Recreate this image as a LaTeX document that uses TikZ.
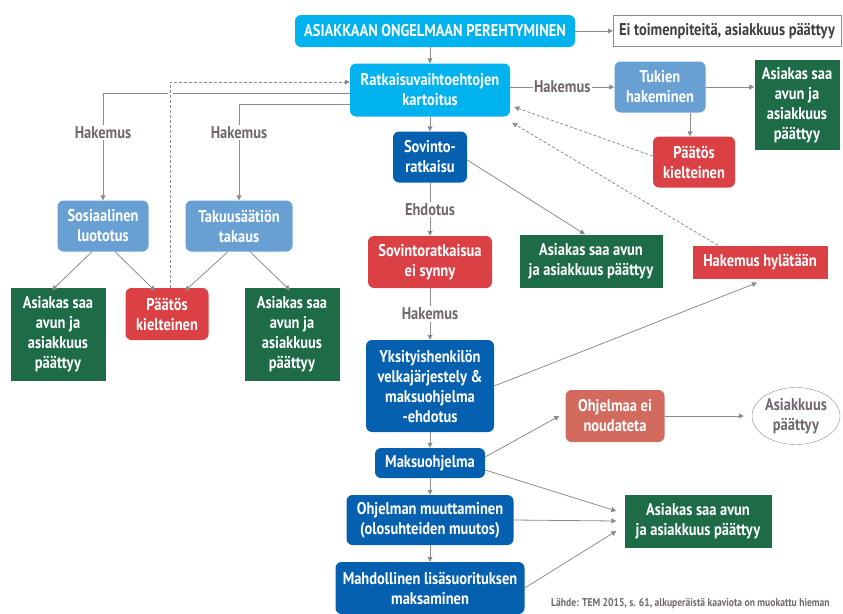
\documentclass[tikz,border=0pt]{standalone}
\usepackage{fontspec}
\setmainfont{PT Sans}[FakeStretch=0.85]
\usetikzlibrary{arrows.meta,shapes.geometric}
\definecolor{cyanbox}{RGB}{0,178,238}
\definecolor{lightbox}{RGB}{104,160,212}
\definecolor{darkbox}{RGB}{6,96,176}
\definecolor{redbox}{RGB}{218,64,68}
\definecolor{greenbox}{RGB}{30,107,72}
\definecolor{salmonbox}{RGB}{210,106,94}
\definecolor{linegray}{RGB}{140,140,140}
\definecolor{lblgray}{RGB}{112,104,110}
\begin{document}
\begin{tikzpicture}[x=1pt,y=-1pt,
    box/.style={rounded corners=6pt,inner sep=0pt,align=center,text=white,font=\fontsize{17}{20}\selectfont\bfseries},
    endbox/.style={box,rounded corners=0pt,fill=greenbox},
    arr/.style={draw=linegray,line width=0.8pt,-{Triangle[length=5pt,width=5pt]}},
    dasharr/.style={arr,dash pattern=on 3pt off 2pt},
    lbl/.style={fill=white,inner sep=1.5pt,text=lblgray,font=\fontsize{17}{20}\selectfont\bfseries}
]
\useasboundingbox (0,0) rectangle (843,613);

%top row
\node[box,fill=cyanbox,minimum width=280,minimum height=32] (alku) at (435,31) {ASIAKKAAN ONGELMAAN PEREHTYMINEN};
\node[box,rounded corners=0pt,draw=linegray,fill=white,text=black!75,minimum width=228,minimum height=31] (eitoim) at (727,31) {Ei toimenpiteitä, asiakkuus päättyy};
\node[box,fill=cyanbox,minimum width=160,minimum height=53] (ratk) at (430,90) {Ratkaisuvaihtoehtojen\\kartoitus};
\node[box,fill=lightbox,minimum width=91,minimum height=51] (tuki) at (660,87) {Tukien\\hakeminen};
\node[endbox,minimum width=85,minimum height=90] (apuA) at (797,105) {Asiakas saa\\avun ja\\asiakkuus\\päättyy};
\node[box,fill=redbox,minimum width=82,minimum height=51] (kielB) at (694,162) {Päätös\\kielteinen};

%middle column
\node[box,fill=darkbox,minimum width=74,minimum height=51] (sov) at (430,157) {Sovinto-\\ratkaisu};
\node[endbox,minimum width=143,minimum height=53] (apuB) at (591,261) {Asiakas saa avun\\ja asiakkuus päättyy};
\node[box,fill=redbox,minimum width=124,minimum height=52] (eisynny) at (430,262) {Sovintoratkaisua\\ei synny};
\node[box,rounded corners=0pt,fill=redbox,minimum width=135,minimum height=33] (hylatty) at (760,262) {Hakemus hylätään};
\node[box,fill=darkbox,minimum width=128,minimum height=92] (yks) at (430,386) {Yksityishenkilön\\velkajärjestely \&\\maksuohjelma\\-ehdotus};
\node[box,fill=darkbox,minimum width=110,minimum height=30] (mak) at (430,463) {Maksuohjelma};
\node[box,fill=salmonbox,minimum width=99,minimum height=52] (eino) at (615,416) {Ohjelmaa ei\\noudateta};
\node[ellipse,draw=linegray,inner sep=0pt,align=center,text=lblgray,font=\fontsize{17}{20}\selectfont\bfseries,minimum width=88,minimum height=57] (paatty) at (796,416) {Asiakkuus\\päättyy};
\node[box,fill=darkbox,minimum width=167,minimum height=50] (muutos) at (430,520) {Ohjelman muuttaminen\\(olosuhteiden muutos)};
\node[box,fill=darkbox,minimum width=189,minimum height=52] (lisa) at (430,588) {Mahdollinen lisäsuorituksen\\maksaminen};
\node[endbox,minimum width=147,minimum height=53] (apuC) at (698,521) {Asiakas saa avun\\ja asiakkuus päättyy};

%left side
\node[box,fill=lightbox,minimum width=91,minimum height=51] (sos) at (103,226) {Sosiaalinen\\luototus};
\node[box,fill=lightbox,minimum width=107,minimum height=51] (tak) at (239,226) {Takuusäätiön\\takaus};
\node[endbox,minimum width=95,minimum height=93] (apuD) at (58,334) {Asiakas saa\\avun ja\\asiakkuus\\päättyy};
\node[box,fill=redbox,minimum width=83,minimum height=52] (kielA) at (167,314) {Päätös\\kielteinen};
\node[endbox,minimum width=95,minimum height=93] (apuE) at (292,334) {Asiakas saa\\avun ja\\asiakkuus\\päättyy};

%connectors
\draw[arr] (alku) -- (eitoim);
\draw[arr] (ratk.north |- alku.south) -- (ratk.north);
\draw[arr] (ratk.east |- tuki) -- node[lbl]{Hakemus} (tuki);
\draw[arr] (tuki) -- (apuA.west |- tuki);
\draw[arr] ([xshift=30]tuki.south) -- ([xshift=30]tuki.south |- kielB.north);
\draw[dasharr] ([yshift=6]kielB.west) -- ([xshift=4,yshift=-17]ratk.east);
\draw[dasharr] ([xshift=-42]hylatty.north) -- ([xshift=2,yshift=-6]ratk.south east);
\draw[arr] (ratk) -- (sov);
\draw[arr] ([yshift=-3]sov.east) -- ([xshift=-6]apuB.north);
\draw[arr] (sov) -- node[lbl]{Ehdotus} (eisynny);
\draw[arr] (eisynny) -- node[lbl]{Hakemus} (yks);
\draw[arr] (yks.east) -- ([xshift=-3,yshift=-4]hylatty.south);
\draw[arr] (yks) -- (mak);
\draw[arr] ([yshift=6]mak.east) -- ([xshift=-6]eino.west);
\draw[arr] (eino) -- ([xshift=-8]paatty.west);
\draw[arr] (mak) -- (muutos);
\draw[arr] (muutos) -- (lisa);
\draw[arr] ([yshift=-7]mak.east) -- ([xshift=-8,yshift=10]apuC.west);
\draw[arr] (muutos.east) -- ([xshift=-8]apuC.west);
\draw[arr] (lisa.east) -- ([xshift=-8,yshift=-10]apuC.west);

%left connectors
\draw[arr] ([yshift=-3]ratk.west) -| node[lbl,pos=0.685]{Hakemus} (sos.north);
\draw[arr] ([yshift=-14]ratk.west) -| node[lbl,pos=0.65]{Hakemus} (tak.north);
\draw[dasharr,preaction={draw=white,line width=5pt,-}] ([xshift=3]kielA.north) |- ([yshift=8]ratk.west);
\draw[arr] ([xshift=-11]sos.south) -- ([xshift=-6,yshift=-3]apuD.north);
\draw[arr] ([xshift=12]sos.south) -- ([xshift=-12,yshift=-3]kielA.north);
\draw[arr] ([xshift=-11]tak.south) -- ([xshift=18,yshift=-3]kielA.north);
\draw[arr] ([xshift=11]tak.south) -- ([xshift=-2,yshift=-3]apuE.north);

%source
\node[anchor=base west,inner sep=0pt,text=lblgray,font=\fontsize{11.3}{13}\selectfont\bfseries] (lahde) at (551,606) {Lähde: TEM 2015, s. 61, alkuperäistä kaaviota on muokattu hieman};
\end{tikzpicture}
\end{document}
